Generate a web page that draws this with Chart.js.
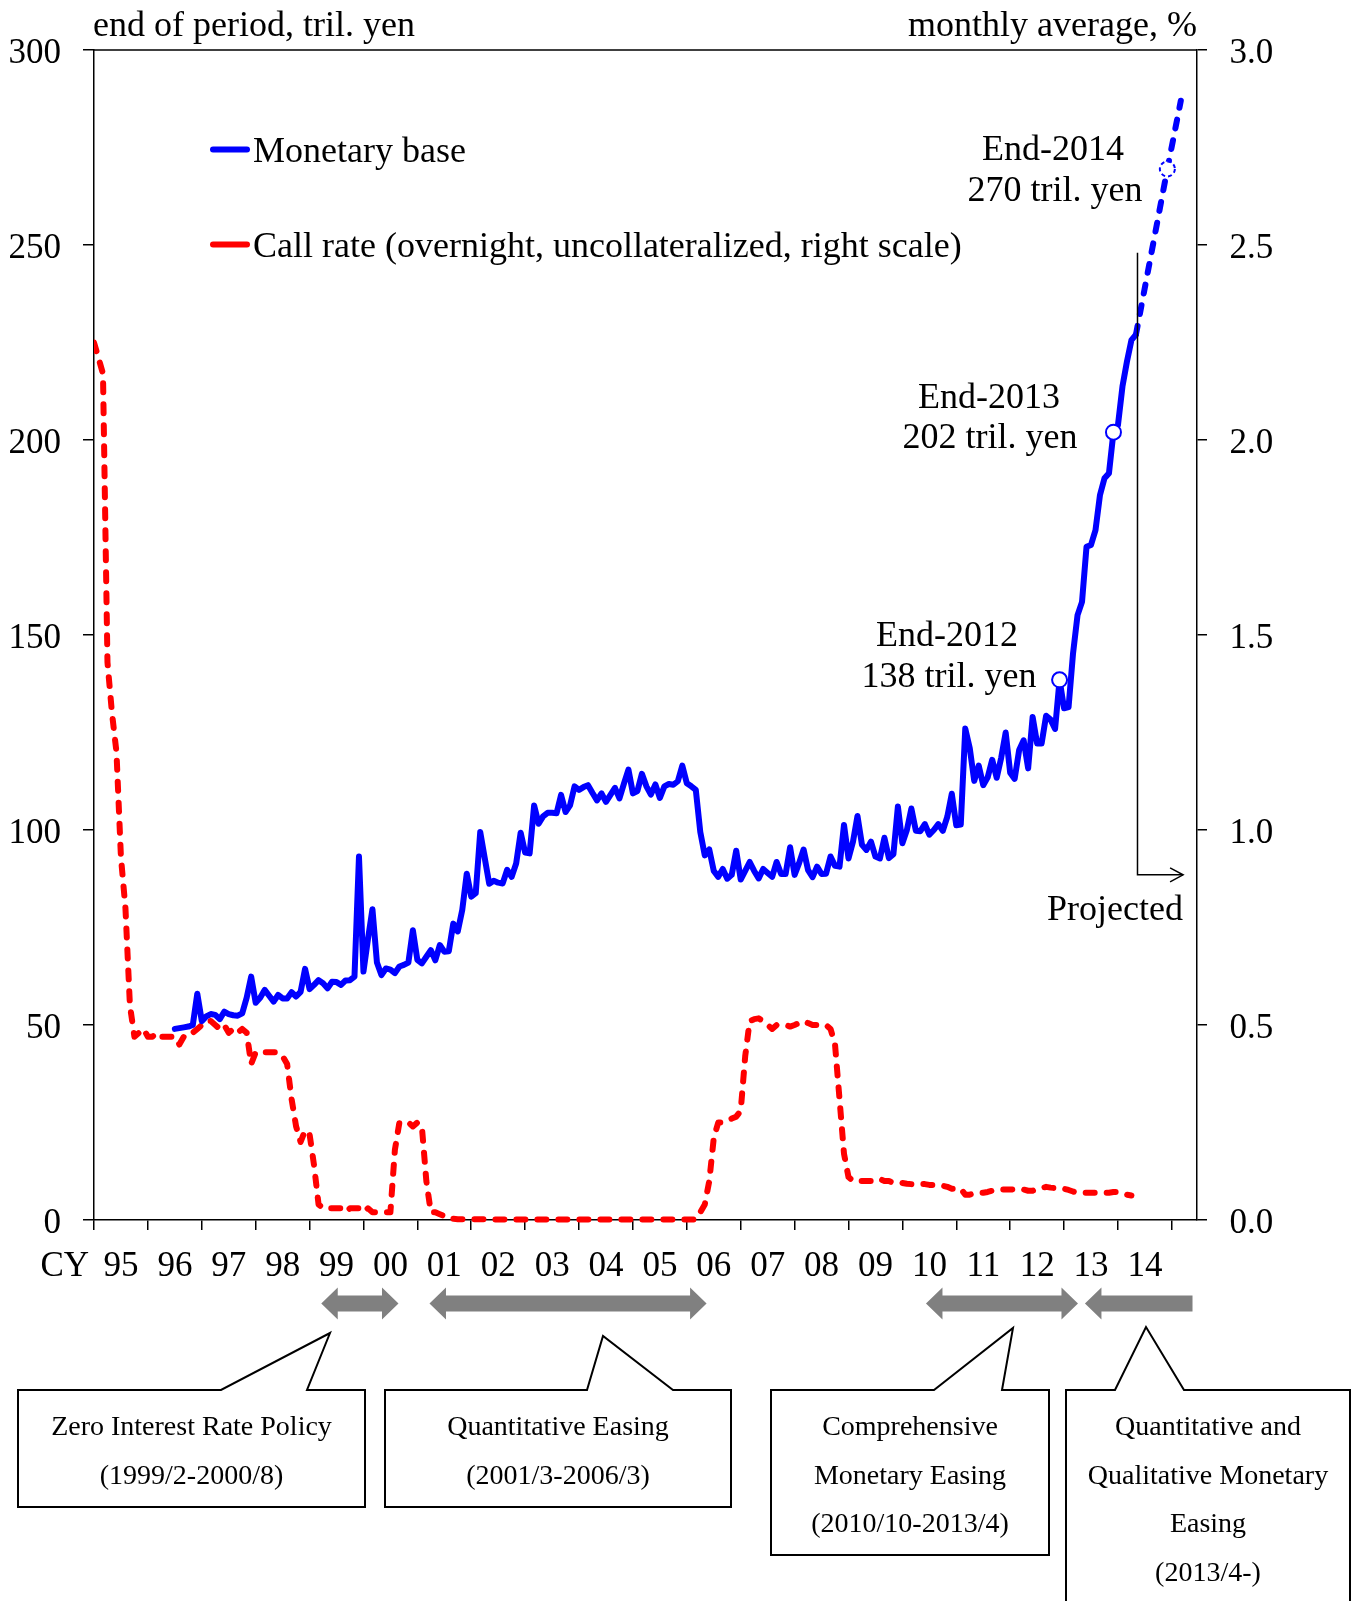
<!DOCTYPE html>
<html>
<head>
<meta charset="utf-8">
<script src="https://cdn.jsdelivr.net/npm/chart.js@4.4.1/dist/chart.umd.min.js"></script>
<style>
html,body{margin:0;padding:0;background:#fff;}
canvas{display:block;}
</style>
</head>
<body>
<canvas id="c" width="1360" height="1601"></canvas>
<script>
// ---------------- DATA (month index = months since 1995/1) ----------------
const yearLabels = ['95','96','97','98','99','00','01','02','03','04','05','06','07','08','09','10','11','12','13','14'];

const monetaryBaseStart = 18; // 1996/7
const monetaryBase = [
  49.0, 49.2, 49.4, 49.6, 50.0, 58.0,                                          // 1996/7-12
  51.0, 52.2, 52.8, 52.6, 51.5, 53.4, 52.8, 52.5, 52.4, 53.0, 57.0, 62.4,      // 1997
  55.7, 57.0, 59.0, 57.5, 56.0, 57.7, 56.8, 56.8, 58.4, 57.3, 58.5, 64.4,      // 1998
  59.2, 60.3, 61.5, 60.7, 59.4, 61.1, 61.0, 60.3, 61.4, 61.5, 62.4, 93.2,      // 1999
  63.7, 72.0, 79.7, 66.0, 62.8, 64.5, 64.2, 63.3, 65.0, 65.4, 66.0, 74.3,      // 2000
  66.7, 65.8, 67.5, 69.2, 66.6, 70.5, 68.8, 68.9, 76.0, 74.0, 79.5, 88.8,      // 2001
  82.9, 83.8, 99.5, 92.8, 86.2, 87.0, 86.5, 86.3, 89.8, 88.0, 91.4, 99.3,      // 2002
  94.2, 94.0, 106.3, 101.6, 103.5, 104.4, 104.4, 104.3, 109.0, 104.6, 106.3, 111.2, // 2003
  110.3, 111.0, 111.5, 109.5, 107.6, 109.4, 107.2, 109.0, 110.8, 108.1, 111.9, 115.5, // 2004
  109.4, 110.0, 114.4, 111.2, 109.1, 111.7, 108.2, 111.2, 111.8, 111.6, 112.5, 116.5, // 2005
  112.0, 111.2, 110.3, 99.5, 93.5, 95.0, 89.5, 88.0, 90.0, 87.5, 88.5, 94.7,   // 2006
  87.3, 89.5, 91.8, 89.5, 87.6, 90.0, 89.0, 88.0, 91.8, 88.7, 88.7, 95.6,      // 2007
  88.5, 91.5, 95.0, 89.7, 87.9, 90.6, 88.7, 88.8, 93.2, 90.8, 90.6, 101.3,     // 2008
  92.7, 97.0, 103.6, 96.2, 94.9, 97.0, 93.2, 92.7, 98.0, 92.8, 93.8, 106.0,    // 2009
  96.6, 100.0, 105.5, 99.8, 99.7, 101.5, 98.8, 100.0, 101.5, 99.8, 103.4, 109.3, // 2010
  101.2, 101.4, 126.0, 121.0, 112.6, 116.5, 111.5, 113.5, 118.0, 113.4, 118.5, 125.0, // 2011
  114.7, 113.1, 120.5, 123.0, 115.8, 129.0, 122.2, 122.2, 129.3, 128.3, 125.9, 138.5, // 2012
  131.2, 131.5, 145.3, 155.1, 158.5, 172.6, 173.1, 176.9, 185.9, 190.2, 191.5, 202.0, // 2013
  203.8, 213.7, 220.1, 225.6, 227.0                                             // 2014/1-5
];

const projectedMonths = [232, 239, 242];
const projectedValues = [227.0, 269.5, 287.0];

const callRateStart = 0; // 1995/1
const callRate = [
  2.25, 2.21, 2.17, 1.43, 1.30, 1.20, 0.93, 0.80, 0.55, 0.47, 0.48, 0.49,      // 1995
  0.47, 0.47, 0.48, 0.47, 0.47, 0.47, 0.47, 0.45, 0.47, 0.48, 0.48, 0.49,      // 1996
  0.50, 0.51, 0.51, 0.50, 0.49, 0.50, 0.48, 0.49, 0.48, 0.49, 0.48, 0.40,      // 1997
  0.43, 0.43, 0.43, 0.43, 0.43, 0.43, 0.42, 0.40, 0.31, 0.24, 0.20, 0.23,      // 1998
  0.22, 0.14, 0.04, 0.03, 0.03, 0.03, 0.03, 0.03, 0.02, 0.03, 0.03, 0.03,      // 1999
  0.02, 0.03, 0.02, 0.02, 0.02, 0.02, 0.02, 0.18, 0.25, 0.25, 0.25, 0.24,      // 2000
  0.25, 0.24, 0.10, 0.02, 0.02, 0.015, 0.01, 0.01, 0.003, 0.002, 0.002, 0.002, // 2001
  0.002, 0.002, 0.002, 0.002, 0.001, 0.001, 0.001, 0.001, 0.001, 0.002, 0.001, 0.001, // 2002
  0.001, 0.001, 0.001, 0.001, 0.001, 0.001, 0.001, 0.001, 0.001, 0.001, 0.001, 0.001, // 2003
  0.001, 0.001, 0.001, 0.001, 0.001, 0.001, 0.001, 0.001, 0.001, 0.001, 0.001, 0.001, // 2004
  0.001, 0.001, 0.001, 0.001, 0.001, 0.001, 0.001, 0.001, 0.001, 0.001, 0.001, 0.001, // 2005
  0.001, 0.001, 0.002, 0.02, 0.04, 0.10, 0.21, 0.25, 0.25, 0.255, 0.26, 0.265, // 2006
  0.28, 0.42, 0.51, 0.515, 0.517, 0.51, 0.50, 0.49, 0.50, 0.50, 0.50, 0.496,   // 2007
  0.50, 0.505, 0.51, 0.505, 0.50, 0.50, 0.50, 0.50, 0.49, 0.45, 0.31, 0.17,    // 2008
  0.11, 0.10, 0.10, 0.10, 0.10, 0.10, 0.105, 0.105, 0.10, 0.10, 0.095, 0.095,  // 2009
  0.095, 0.093, 0.092, 0.092, 0.092, 0.092, 0.09, 0.09, 0.09, 0.088, 0.085, 0.08, // 2010
  0.08, 0.08, 0.065, 0.065, 0.068, 0.07, 0.07, 0.072, 0.075, 0.077, 0.078, 0.078, // 2011
  0.078, 0.079, 0.08, 0.078, 0.075, 0.075, 0.08, 0.082, 0.085, 0.083, 0.082, 0.08, // 2012
  0.08, 0.077, 0.073, 0.07, 0.07, 0.07, 0.07, 0.07, 0.07, 0.07, 0.07, 0.072,   // 2013
  0.072, 0.07, 0.065, 0.063                                                     // 2014/1-4
];

const markerMonths = [215, 227];            // End-2012, End-2013
const markerValues = [138.5, 202.0];
const projectedMarkerMonth = 239;           // End-2014 (projected)
const projectedMarkerValue = 269.5;

const annotationTexts = [
  {lines: ['End-2014', '270 tril. yen'], cx: [1053, 1055], base: [160, 201]},
  {lines: ['End-2013', '202 tril. yen'], cx: [989, 990], base: [408, 448]},
  {lines: ['End-2012', '138 tril. yen'], cx: [947, 949], base: [646, 687]}
];

// policy period arrows [fromMonth, toMonth, bothHeads]
const policyArrows = [[50.6, 67.8, true], [74.7, 136.4, true], [185.25, 219.1, true], [220.65, 244.6, false]];
const policyBoxes = [
  {rect: [18, 1390, 365, 1507], ptr: [221, 330, 1333, 307], lines: ['Zero Interest Rate Policy', '(1999/2-2000/8)']},
  {rect: [385, 1390, 731, 1507], ptr: [587, 603, 1336, 673], lines: ['Quantitative Easing', '(2001/3-2006/3)']},
  {rect: [771, 1390, 1049, 1555], ptr: [934, 1013, 1328, 1002], lines: ['Comprehensive', 'Monetary Easing', '(2010/10-2013/4)']},
  {rect: [1066, 1390, 1350, 1640], ptr: [1115, 1146, 1327, 1184], lines: ['Quantitative and', 'Qualitative Monetary', 'Easing', '(2013/4-)']}
];

const projectionMonth = 232.35;
const axisEndMonth = 245.6;

// ---------------- CHART ----------------
const SERIF = '"Liberation Serif", "Times New Roman", serif';
const BLUE = '#0000FF', RED = '#FF0000', GRAY = '#808080';

const mbData = monetaryBase.map((v, i) => ({x: monetaryBaseStart + i, y: v}));
const projData = projectedMonths.map((m, i) => ({x: m, y: projectedValues[i]}));
const crData = callRate.map((v, i) => ({x: callRateStart + i, y: v}));
const mkData = markerMonths.map((m, i) => ({x: m, y: markerValues[i]}));

const decor = {
  id: 'decor',
  afterDatasetsDraw(chart) {
    const {ctx, scales: {x, y}} = chart;
    ctx.save();
    const px = x.getPixelForValue(projectedMarkerMonth), py = y.getPixelForValue(projectedMarkerValue);
    ctx.beginPath();
    ctx.arc(px, py, 7.5, 0, Math.PI * 2);
    ctx.fillStyle = '#fff';
    ctx.fill();
    ctx.setLineDash([4, 3]);
    ctx.lineWidth = 2;
    ctx.strokeStyle = BLUE;
    ctx.stroke();
    ctx.restore();
  },
  afterDraw(chart) {
    const {ctx, chartArea: ca, scales: {x, y}} = chart;
    ctx.save();
    ctx.fillStyle = '#000';
    ctx.strokeStyle = '#000';
    // top frame line
    ctx.lineWidth = 1.5;
    ctx.beginPath(); ctx.moveTo(ca.left, ca.top); ctx.lineTo(ca.right, ca.top); ctx.stroke();

    // axis titles
    ctx.font = '36px ' + SERIF;
    ctx.textBaseline = 'alphabetic';
    ctx.textAlign = 'left';
    ctx.fillText('end of period, tril. yen', ca.left - 1, 36);
    ctx.textAlign = 'right';
    ctx.fillText('monthly average, %', ca.right, 36);

    // CY
    ctx.font = '35px ' + SERIF;
    ctx.textAlign = 'right';
    ctx.textBaseline = 'middle';
    ctx.fillText('CY', 89, 1266.5);

    // legend
    ctx.lineCap = 'round';
    ctx.lineWidth = 6;
    ctx.strokeStyle = BLUE;
    ctx.beginPath(); ctx.moveTo(213, 149.5); ctx.lineTo(247, 149.5); ctx.stroke();
    ctx.strokeStyle = RED;
    ctx.beginPath(); ctx.moveTo(213, 244.5); ctx.lineTo(247, 244.5); ctx.stroke();
    ctx.font = '36px ' + SERIF;
    ctx.textAlign = 'left';
    ctx.textBaseline = 'alphabetic';
    ctx.fillStyle = '#000';
    ctx.fillText('Monetary base', 253, 162);
    ctx.fillText('Call rate (overnight, uncollateralized, right scale)', 253, 257);

    // annotations
    ctx.textAlign = 'center';
    annotationTexts.forEach(a => a.lines.forEach((t, i) => ctx.fillText(t, a.cx[i], a.base[i])));

    // projected marker line + arrow
    const vx = x.getPixelForValue(projectionMonth);
    const yTop = y.getPixelForValue(248);
    const yBot = y.getPixelForValue(88.5);
    const xEnd = x.getPixelForValue(242.5);
    ctx.strokeStyle = '#000';
    ctx.lineWidth = 1.5;
    ctx.lineCap = 'butt';
    ctx.beginPath(); ctx.moveTo(vx, yTop); ctx.lineTo(vx, yBot); ctx.lineTo(xEnd, yBot); ctx.stroke();
    ctx.beginPath(); ctx.moveTo(xEnd - 13, yBot - 7); ctx.lineTo(xEnd, yBot); ctx.lineTo(xEnd - 13, yBot + 7); ctx.stroke();
    ctx.fillText('Projected', 1115, 920);

    // policy arrows
    const cy = 1303.5, hl = 16.5, hh = 16, sh = 8;
    ctx.fillStyle = GRAY;
    policyArrows.forEach(([a, b, both]) => {
      const x1 = x.getPixelForValue(a), x2 = x.getPixelForValue(b);
      ctx.beginPath();
      ctx.moveTo(x1, cy);
      ctx.lineTo(x1 + hl, cy - hh);
      ctx.lineTo(x1 + hl, cy - sh);
      if (both) {
        ctx.lineTo(x2 - hl, cy - sh);
        ctx.lineTo(x2 - hl, cy - hh);
        ctx.lineTo(x2, cy);
        ctx.lineTo(x2 - hl, cy + hh);
        ctx.lineTo(x2 - hl, cy + sh);
      } else {
        ctx.lineTo(x2, cy - sh);
        ctx.lineTo(x2, cy + sh);
      }
      ctx.lineTo(x1 + hl, cy + sh);
      ctx.lineTo(x1 + hl, cy + hh);
      ctx.closePath();
      ctx.fill();
    });

    // callout boxes
    ctx.lineWidth = 2;
    ctx.strokeStyle = '#000';
    ctx.lineJoin = 'miter';
    policyBoxes.forEach(bx => {
      const [l, t, r, b] = bx.rect;
      const [pl, tx, ty, pr] = bx.ptr;
      ctx.beginPath();
      ctx.moveTo(l, t);
      ctx.lineTo(pl, t);
      ctx.lineTo(tx, ty);
      ctx.lineTo(pr, t);
      ctx.lineTo(r, t);
      ctx.lineTo(r, b);
      ctx.lineTo(l, b);
      ctx.closePath();
      ctx.fillStyle = '#fff';
      ctx.fill();
      ctx.stroke();
      ctx.fillStyle = '#000';
      ctx.font = '28px ' + SERIF;
      ctx.textAlign = 'center';
      ctx.textBaseline = 'middle';
      const cxm = (l + r) / 2;
      bx.lines.forEach((s, i) => ctx.fillText(s, cxm, 1428 + i * 48.5));
    });
    ctx.restore();
  }
};

const tickFont = {family: SERIF, size: 35};

new Chart(document.getElementById('c'), {
  type: 'line',
  data: {
    datasets: [
      {label: 'markers', data: mkData, yAxisID: 'y', showLine: false, pointRadius: 7.5, pointHoverRadius: 7.5,
       pointStyle: 'circle', pointBackgroundColor: '#fff', pointBorderColor: BLUE, pointBorderWidth: 2},
      {label: 'Monetary base', data: mbData, yAxisID: 'y', borderColor: BLUE, borderWidth: 6, pointRadius: 0,
       tension: 0, borderJoinStyle: 'round', borderCapStyle: 'round', fill: false},
      {label: 'Monetary base (projected)', data: projData, yAxisID: 'y', borderColor: BLUE, borderWidth: 6, pointRadius: 0,
       borderDash: [9, 12], borderCapStyle: 'round', tension: 0, fill: false},
      {label: 'Call rate', data: crData, yAxisID: 'y1', borderColor: RED, borderWidth: 6, pointRadius: 0,
       borderDash: [9, 12], borderCapStyle: 'round', borderJoinStyle: 'round', tension: 0, fill: false,
       clip: {left: 0, top: 5, right: 5, bottom: 5}}
    ]
  },
  options: {
    responsive: false,
    animation: false,
    devicePixelRatio: 1,
    events: [],
    layout: {padding: {top: 50, left: 0, right: 0, bottom: 0}},
    plugins: {legend: {display: false}, tooltip: {enabled: false}, title: {display: false}},
    scales: {
      x: {
        type: 'linear', position: 'bottom', min: 0, max: axisEndMonth,
        afterBuildTicks: s => { s.ticks = yearLabels.concat(['']).map((_, i) => ({value: i * 12})); },
        afterFit: s => { s.height = 381; },
        ticks: {
          autoSkip: false, maxRotation: 0, minRotation: 0, padding: 15.5, color: '#000', font: tickFont,
          labelOffset: 27,
          callback: v => { const i = Math.round(v / 12); return i < yearLabels.length ? yearLabels[i] : ''; }
        },
        grid: {drawOnChartArea: false, drawTicks: true, tickLength: 10, color: '#000', lineWidth: 1.5},
        border: {display: true, color: '#000', width: 1.5}
      },
      y: {
        type: 'linear', position: 'left', min: 0, max: 300,
        afterFit: s => { s.width = 94; },
        ticks: {stepSize: 50, padding: 22, labelOffset: 3.5, color: '#000', font: tickFont},
        grid: {drawOnChartArea: false, drawTicks: true, tickLength: 11, color: '#000', lineWidth: 1.5},
        border: {display: true, color: '#000', width: 1.5}
      },
      y1: {
        type: 'linear', position: 'right', min: 0, max: 3,
        afterFit: s => { s.width = 163; },
        ticks: {stepSize: 0.5, padding: 22.5, labelOffset: 3.5, color: '#000', font: tickFont, callback: v => Number(v).toFixed(1)},
        grid: {drawOnChartArea: false, drawTicks: true, tickLength: 10, color: '#000', lineWidth: 1.5},
        border: {display: true, color: '#000', width: 1.5}
      }
    }
  },
  plugins: [decor]
});
</script>
</body>
</html>
